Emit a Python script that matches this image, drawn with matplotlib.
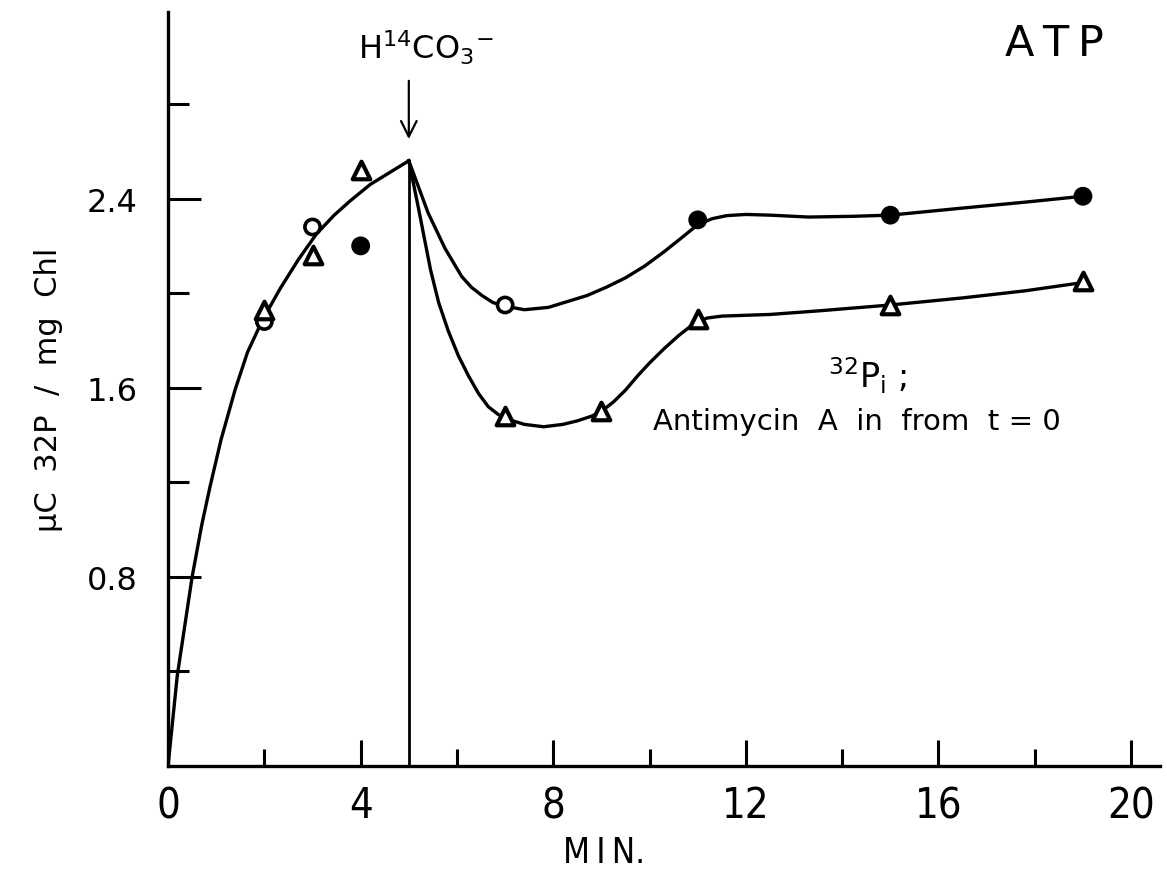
import matplotlib
matplotlib.use('Agg')
import matplotlib.pyplot as plt
from matplotlib.ticker import FixedLocator

# measured points (min, uC 32P / mg Chl)
circ_x = [2, 3, 4, 7, 11, 15, 19]
circ_y = [1.88, 2.28, 2.20, 1.95, 2.31, 2.33, 2.41]
tri_x = [2, 3, 4, 7, 9, 11, 15, 19]
tri_y = [1.93, 2.16, 2.52, 1.48, 1.50, 1.89, 1.95, 2.05]

# hand drawn curves
rise_x = [0, 0.19, 0.5, 0.7, 0.87, 1.1, 1.39, 1.65, 1.97, 2.33, 2.7, 3.08, 3.45, 3.78, 4.2, 4.6, 5.0]
rise_y = [0, 0.38, 0.80, 1.02, 1.18, 1.38, 1.59, 1.75, 1.89, 2.02, 2.14, 2.25, 2.33, 2.39, 2.46, 2.51, 2.56]

upper_x = [5.0, 5.2, 5.4, 5.75, 6.1, 6.3, 6.52, 6.75, 7.0, 7.4, 7.9, 8.3, 8.7, 9.1, 9.5, 9.9,
           10.3, 10.7, 11.0, 11.3, 11.6, 12.0, 12.5, 13.3, 14.2, 15.0, 16.5, 17.8, 19.0]
upper_y = [2.56, 2.45, 2.34, 2.19, 2.07, 2.025, 1.99, 1.96, 1.945, 1.93, 1.94, 1.965, 1.99, 2.025,
           2.065, 2.115, 2.175, 2.24, 2.29, 2.315, 2.328, 2.333, 2.33, 2.322, 2.325, 2.33, 2.36,
           2.385, 2.41]

lower_x = [5.0, 5.2, 5.45, 5.62, 5.82, 6.03, 6.24, 6.45, 6.65, 6.85, 7.0, 7.4, 7.8, 8.2, 8.5,
           8.8, 9.0, 9.25, 9.5, 9.75, 10.0, 10.3, 10.6, 10.85, 11.0, 11.2, 11.5, 12.5, 13.5,
           15.0, 16.5, 17.8, 19.0]
lower_y = [2.56, 2.36, 2.10, 1.96, 1.84, 1.735, 1.65, 1.575, 1.52, 1.488, 1.47, 1.445, 1.435,
           1.445, 1.46, 1.48, 1.50, 1.54, 1.59, 1.65, 1.705, 1.765, 1.82, 1.86, 1.88, 1.895,
           1.903, 1.91, 1.925, 1.95, 1.98, 2.01, 2.045]

inject_x = 5.0
inject_top = 2.56

plt.rcParams['font.family'] = 'DejaVu Sans'
plt.rcParams['mathtext.fontset'] = 'dejavusans'

fig = plt.figure(figsize=(11.67, 8.79), dpi=100)
ax = fig.add_axes([0.144, 0.1274, 0.850, 0.858])

lw = 2.4
ax.plot(rise_x, rise_y, color='k', lw=lw, solid_joinstyle='round')
ax.plot(upper_x, upper_y, color='k', lw=lw, solid_joinstyle='round')
ax.plot(lower_x, lower_y, color='k', lw=lw, solid_joinstyle='round')
ax.plot([inject_x, inject_x], [0, inject_top], color='k', lw=2.0)

filled = [False, False, True, False, True, True, True]
ax.scatter(circ_x, circ_y, s=120, marker='o',
           facecolors=['k' if f else 'white' for f in filled],
           edgecolors='k', linewidths=2.6, zorder=3)
ax.scatter(tri_x, tri_y, s=160, marker='^', facecolors='white',
           edgecolors='k', linewidths=3.0, zorder=3)

ax.set_xlim(0, 20.6)
ax.set_ylim(0, 3.19)

for s in ['top', 'right']:
    ax.spines[s].set_visible(False)
for s in ['left', 'bottom']:
    ax.spines[s].set_linewidth(2.4)

ax.xaxis.set_major_locator(FixedLocator([0, 4, 8, 12, 16, 20]))
ax.xaxis.set_minor_locator(FixedLocator([2, 6, 10, 14, 18]))
ax.yaxis.set_major_locator(FixedLocator([0.8, 1.6, 2.4]))
ax.yaxis.set_minor_locator(FixedLocator([0.4, 1.2, 2.0, 2.8]))

ax.tick_params(axis='x', which='major', direction='in', length=19, width=2.2, pad=13, labelsize=30)
ax.tick_params(axis='x', which='minor', direction='in', length=12, width=2.2)
ax.tick_params(axis='y', which='major', direction='in', length=24, width=2.2, pad=22, labelsize=23)
ax.tick_params(axis='y', which='minor', direction='in', length=15, width=2.2)
for lab in ax.get_xticklabels():
    lab.set_fontstretch('condensed')
ax.set_yticklabels(['0.8', '1.6', '2.4'])

ax.set_xlabel('M\u2009I\u2009N.', fontsize=25, fontstretch='condensed')
ax.xaxis.set_label_coords(0.44, -0.092)
ax.set_ylabel('\u00b5C  32P  /  mg  Chl', fontsize=22)
ax.yaxis.set_label_coords(-0.106, 0.5)

ax.text(18.4, 3.06, 'A\u2009T\u2009P', fontsize=31, ha='center', va='center')
ax.text(5.35, 3.04, r'H$^{14}$CO$_3$$^{-}$', fontsize=23, ha='center', va='center')
ax.annotate('', xy=(5.0, 2.64), xytext=(5.0, 2.91),
            arrowprops=dict(arrowstyle='->', lw=1.6, color='k', mutation_scale=28))

ax.text(13.7, 1.60, r'$^{32}$P$_{\rm i}$ ;', fontsize=24, ha='left', va='baseline')
ax.text(10.07, 1.46, 'Antimycin  A  in  from  t = 0', fontsize=21, ha='left', va='center')

plt.savefig('out.png', dpi=100)
